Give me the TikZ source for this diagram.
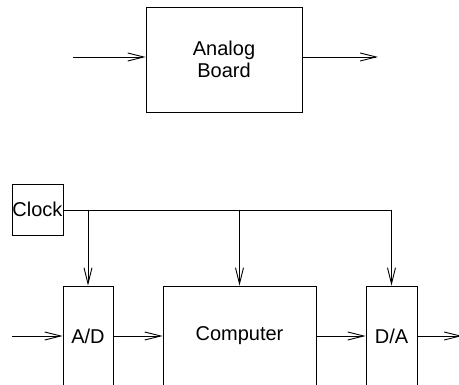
\documentclass[tikz,border=0pt]{standalone}
\usepackage{fontspec}
\setmainfont{Liberation Sans}
\usetikzlibrary{arrows.meta}
\begin{document}
\begin{tikzpicture}[x=1pt,y=-1pt,
  blk/.style={draw=black, line width=0.9pt, inner sep=0pt, font=\fontsize{20}{22}\selectfont, align=center},
  conn/.style={draw=black, line width=0.9pt, -{Straight Barb[length=16pt,width=8pt,line width=0.9pt]}},
  wire/.style={draw=black, line width=0.9pt}]
\useasboundingbox (0,0) rectangle (459,385);
\clip (0,0) rectangle (459,385);
% top
\node[blk, minimum width=156pt, minimum height=105pt] (ab) at (224,59.5) {Analog\\Board};
\coordinate (ain) at (73,57);
\coordinate (aout) at (378,57);
\draw[conn] (ain) -- (ain -| ab.west);
\draw[conn] (aout -| ab.east) -- (aout);
% bottom
\node[blk, minimum width=51pt, minimum height=51pt] (clk) at (37.5,209.5) {Clock};
\node[blk, minimum width=50pt, minimum height=100pt] (ad) at (88,336) {A/D};
\node[blk, minimum width=153pt, minimum height=100pt] (cpu) at (239.5,336) {Computer};
\node[blk, minimum width=51pt, minimum height=100pt] (da) at (391.5,336) {D/A};
\coordinate (din) at (12,336);
\coordinate (dout) at (462,336);
\coordinate (bus) at (391.5,210);
\draw[wire] (clk.east |- bus) -- (bus);
\draw[conn] (ad.north |- bus) -- (ad.north);
\draw[conn] (cpu.north |- bus) -- (cpu.north);
\draw[conn] (bus) -- (da.north);
\draw[conn] (din) -- (ad.west |- din);
\draw[conn] (ad.east |- din) -- (cpu.west |- din);
\draw[conn] (cpu.east |- din) -- (da.west |- din);
\draw[conn] (da.east |- din) -- (dout);
\end{tikzpicture}
\end{document}
